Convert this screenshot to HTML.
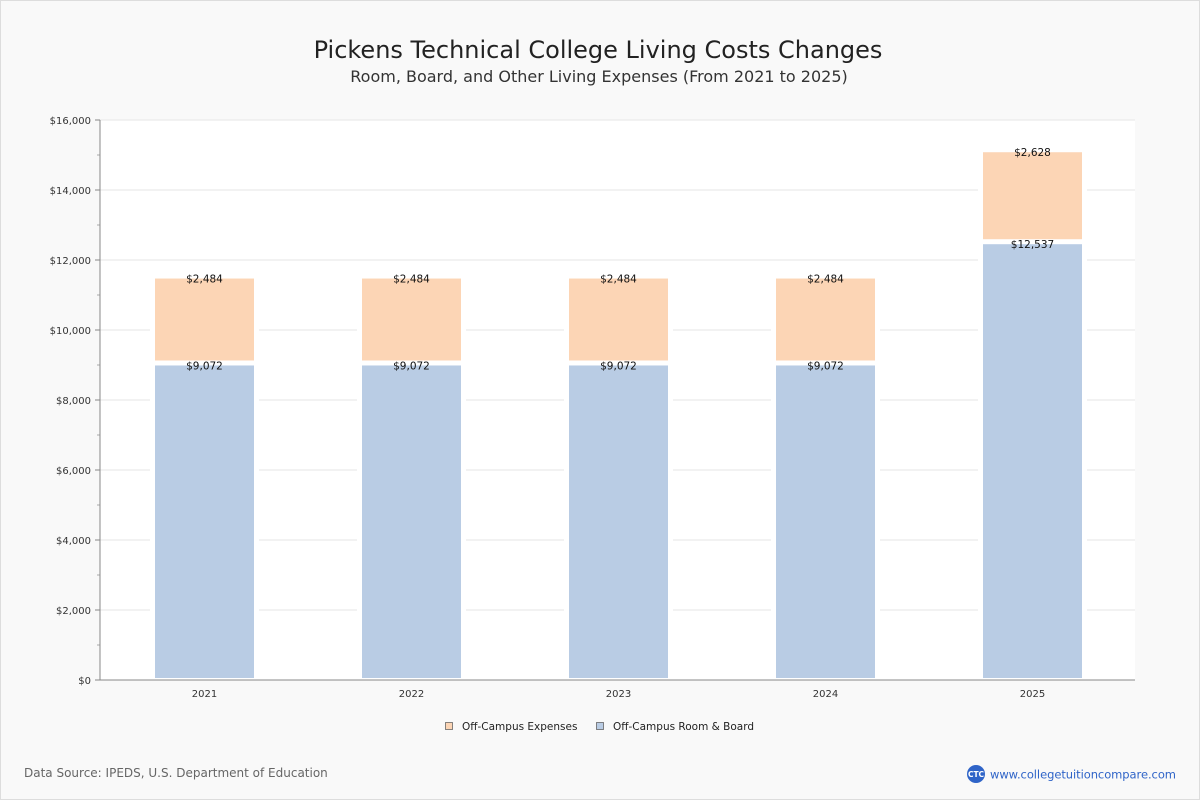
<!DOCTYPE html>
<html><head><meta charset="utf-8"><style>
body{margin:0;width:1200px;height:800px;background:#f9f9f9;font-family:"DejaVu Sans","Liberation Sans",sans-serif;overflow:hidden}
.frame{position:absolute;left:0;top:0;width:1198px;height:798px;border:1px solid #ddd}
</style></head><body>
<div class="frame"></div>
<svg width="1200" height="800" style="position:absolute;left:0;top:0">
<text x="598" y="58" text-anchor="middle" font-size="24" fill="#222">Pickens Technical College Living Costs Changes</text>
<text x="599" y="82" text-anchor="middle" font-size="16" fill="#333">Room, Board, and Other Living Expenses (From 2021 to 2025)</text>
<rect x="100" y="120" width="1035" height="560" fill="#fff"/>
<g id="grid"></g><g id="bars"></g><g id="axes"></g>
<g>
<rect x="445.5" y="722.5" width="7" height="7" fill="#fcd5b5" stroke="#555" stroke-width="0.7"/>
<text x="462" y="730" font-size="10.5" fill="#222">Off-Campus Expenses</text>
<rect x="596.5" y="722.5" width="7" height="7" fill="#b9cce4" stroke="#555" stroke-width="0.7"/>
<text x="613" y="730" font-size="10.5" fill="#222">Off-Campus Room &amp; Board</text>
</g>
<text x="24" y="777" font-size="12" fill="#666">Data Source: IPEDS, U.S. Department of Education</text>
<circle cx="976" cy="774" r="9" fill="#2f64c8"/>
<text x="976" y="777" text-anchor="middle" font-size="7.5" fill="#fff" font-weight="bold">CTC</text>
<text x="990" y="778.5" font-size="11.5" fill="#2f64c8" textLength="186">www.collegetuitioncompare.com</text>
</svg>
<script>
const years=["2021","2022","2023","2024","2025"];
const roomBoard=[9072,9072,9072,9072,12537];
const expenses=[2484,2484,2484,2484,2628];
const yTicks=[0,2000,4000,6000,8000,10000,12000,14000,16000];
const NS="http://www.w3.org/2000/svg";
const x0=100,x1=1135,yTop=120,yBot=680,yMax=16000;
const y=v=>yBot-(v/yMax)*(yBot-yTop);
const band=(x1-x0)/years.length;
const xc=i=>x0+band*(i+0.5);
const bw=99;
function mk(tag,a,p){const e=document.createElementNS(NS,tag);for(const k in a)e.setAttribute(k,a[k]);p.appendChild(e);return e;}
const grid=document.getElementById('grid'),bars=document.getElementById('bars'),axes=document.getElementById('axes');
yTicks.forEach(t=>{
 const l=mk('line',{x1:x0,x2:x1,y1:y(t),y2:y(t),stroke:'#e6e6e6','stroke-width':1},grid);
 
 
 const tk=mk('line',{x1:x0-5,x2:x0,y1:y(t),y2:y(t),stroke:'#888'},axes);
 
 
 const tx=mk('text',{x:x0-9,y:y(t)+4,'text-anchor':'end','font-size':10,fill:'#333'},axes);
 tx.textContent='$'+t.toLocaleString('en-US');
 
 
});
for(let t=1000;t<yMax;t+=2000){const m=mk('line',{x1:x0-3,x2:x0,y1:y(t),y2:y(t),stroke:'#aaa'},axes);
 
 }
mk('line',{x1:x0,x2:x0,y1:yTop,y2:yBot,stroke:'#888'},axes);
mk('line',{x1:x0,x2:x1,y1:yBot,y2:yBot,stroke:'#888'},axes);
years.forEach((yr,i)=>{
 const c=xc(i)+1,L=c-bw/2,tot=roomBoard[i]+expenses[i];
 const bg=mk('rect',{x:L-5,y:y(tot)-1,width:bw+10,height:yBot-y(tot),fill:'#fff'},bars);
 
 
 const b=mk('rect',{x:L,y:y(roomBoard[i])+3,width:bw,height:yBot-y(roomBoard[i])-5,fill:'#b9cce4'},bars);
 
 
 const o=mk('rect',{x:L,y:y(tot)+3,width:bw,height:y(roomBoard[i])-y(tot)-5,fill:'#fcd5b5'},bars);
 
 
 const t1=mk('text',{x:c,y:y(roomBoard[i])+7,'text-anchor':'middle','font-size':10.5,fill:'#111'},bars);
 t1.textContent='$'+roomBoard[i].toLocaleString('en-US');
 
 
 const t2=mk('text',{x:c,y:y(tot)+7,'text-anchor':'middle','font-size':10.5,fill:'#111'},bars);
 t2.textContent='$'+expenses[i].toLocaleString('en-US');
 
 
 const xl=mk('text',{x:c,y:697,'text-anchor':'middle','font-size':10,fill:'#333'},axes);
 xl.textContent=yr;
 
 
});
</script>
</body></html>
